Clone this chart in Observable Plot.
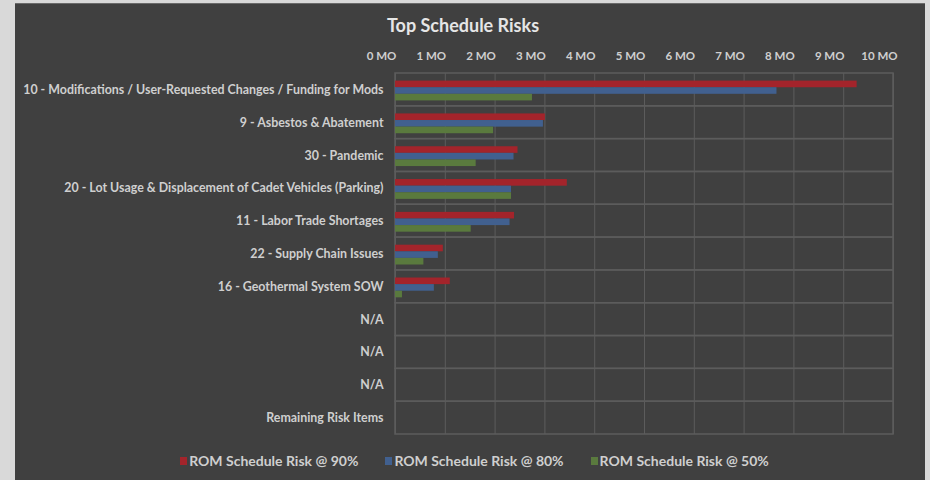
<!DOCTYPE html>
<html>
<head>
<meta charset="utf-8">
<script src="https://cdn.jsdelivr.net/npm/d3@7"></script>
<script src="https://cdn.jsdelivr.net/npm/@observablehq/plot@0.6"></script>
<style>
  html, body { margin: 0; padding: 0; background: #d9d9d9; width: 930px; height: 480px; overflow: hidden; }
  #card { position: absolute; left: 15px; top: 3px; width: 910px; height: 477px; background: #404040; border-top: 1px solid #6a6a6a; box-sizing: border-box; font-family: Lato, "Open Sans", sans-serif; }
  #title { position: absolute; left: 0; width: 896px; top: 10px; text-align: center; color: #e6e6e6; font-weight: bold; font-size: 18px; }
  #chart { position: absolute; left: 0; top: 0; }
  #chart svg { display: block; }
  #legend { position: absolute; left: 12px; width: 895px; top: 448px; display: flex; justify-content: center; gap: 27px; color: #cfcfcf; font-weight: bold; font-size: 14px; }
  .item { display: flex; align-items: center; gap: 2px; }
  .sw { width: 7px; height: 8px; display: inline-block; }
</style>
</head>
<body>
<div id="card">
  <div id="title">Top Schedule Risks</div>
  <div id="chart"></div>
  <div id="legend"></div>
</div>
<script>
const categories = [
  "10 - Modifications / User-Requested Changes / Funding for Mods",
  "9 - Asbestos & Abatement",
  "30 - Pandemic",
  "20 - Lot Usage & Displacement of Cadet Vehicles (Parking)",
  "11 - Labor Trade Shortages",
  "22 - Supply Chain Issues",
  "16 - Geothermal System SOW",
  "N/A",
  "N/A",
  "N/A",
  "Remaining Risk Items"
];
const risk90 = [9.27, 3.01, 2.46, 3.45, 2.39, 0.96, 1.10, 0, 0, 0, 0];
const risk80 = [7.66, 2.97, 2.38, 2.33, 2.30, 0.86, 0.78, 0, 0, 0, 0];
const risk50 = [2.75, 1.97, 1.62, 2.33, 1.52, 0.57, 0.14, 0, 0, 0, 0];
const seriesNames = ["ROM Schedule Risk @ 90%", "ROM Schedule Risk @ 80%", "ROM Schedule Risk @ 50%"];
const seriesColors = ["#a3242b", "#41608f", "#5a7a3e"];
const xTicks = [0, 1, 2, 3, 4, 5, 6, 7, 8, 9, 10];

const idx = categories.map((_, i) => i);
const rows = (vals) => vals.map((v, i) => ({i, v}));

const chart = Plot.plot({
  width: 910,
  height: 440,
  marginLeft: 380,
  marginRight: 32,
  marginTop: 69,
  marginBottom: 10,
  style: {background: "transparent", color: "#cfcfcf", fontFamily: "Lato, 'Open Sans', sans-serif", fontWeight: "bold"},
  x: {domain: [0, 10], label: null},
  y: {domain: idx, padding: 0, round: false, label: null},
  marks: [
    Plot.gridX(xTicks, {stroke: "#5c5c5c", strokeOpacity: 1}),
    Plot.barX(idx, {y: d => d, x1: 0, x2: 10, fill: "none", stroke: "#5c5c5c", strokeWidth: 1.5}),
    Plot.barX(rows(risk90), {y: "i", x: "v", fill: seriesColors[0], insetTop: 7.6, insetBottom: 18.6}),
    Plot.barX(rows(risk80), {y: "i", x: "v", fill: seriesColors[1], insetTop: 14.2, insetBottom: 12}),
    Plot.barX(rows(risk50), {y: "i", x: "v", fill: seriesColors[2], insetTop: 20.8, insetBottom: 5.4}),
    Plot.axisX({anchor: "top", ticks: xTicks, tickFormat: d => d + " MO", tickSize: 0, tickPadding: 14, dx: -14, fontSize: 11.5, label: null}),
    Plot.axisY({tickFormat: i => categories[i], tickSize: 0, tickPadding: 12, fontSize: 12.4, label: null})
  ]
});
document.getElementById("chart").appendChild(chart);

const legend = document.getElementById("legend");
seriesNames.forEach((name, k) => {
  const it = document.createElement("div");
  it.className = "item";
  const sw = document.createElement("span");
  sw.className = "sw";
  sw.style.background = seriesColors[k];
  const t = document.createElement("span");
  t.textContent = name;
  it.appendChild(sw);
  it.appendChild(t);
  legend.appendChild(it);
});
</script>
</body>
</html>
